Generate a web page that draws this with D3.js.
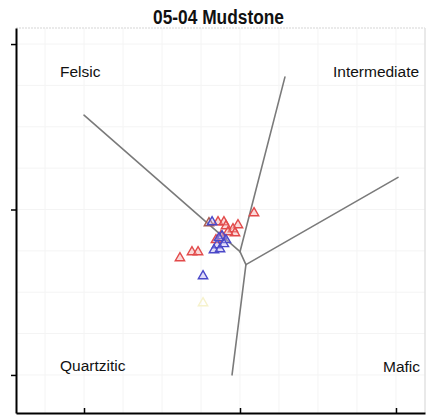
<!DOCTYPE html>
<html>
<head>
<meta charset="utf-8">
<script src="https://cdn.jsdelivr.net/npm/d3@7"></script>
<style>
  html, body { margin: 0; padding: 0; background: #fff; }
  svg { display: block; }
</style>
</head>
<body>
<svg id="chart" width="438" height="415"></svg>
<script>
// Discriminant-function provenance diagram (DF1 vs DF2)
const title = "05-04 Mudstone";
const xTicks = [-10, 0, 10];
const yTicks = [-10, 0, 10];

// Field boundary segments, [x1, y1, x2, y2] in DF units
const boundaries = [
  [-10.0, 5.70, 0.0, -2.55],
  [2.88, 8.00, 0.0, -2.55],
  [0.0, -2.55, 0.38, -3.33],
  [0.38, -3.33, 10.13, 1.94],
  [0.38, -3.33, -0.51, -10.0]
];

// Field names
const fieldNames = ["Felsic", "Intermediate", "Quartzitic", "Mafic"];
const fieldX = [-11.54, 5.96, -11.54, 9.17];
const fieldY = [8.0, 8.0, -9.76, -9.82];

// Sample groups
const redDF1 = [0.90, -1.41, -1.03, -0.13, -0.45, -0.32, -0.90, -3.08, -2.69, -3.85, -1.54, -1.22, -0.77];
const redDF2 = [-0.21, -0.76, -0.76, -0.94, -1.18, -1.42, -1.00, -2.57, -2.57, -2.93, -1.84, -1.60, -1.36];
const blueDF1 = [-1.79, -1.15, -0.90, -1.47, -1.67, -1.28, -1.03, -2.37, -1.35];
const blueDF2 = [-0.76, -1.60, -1.84, -2.15, -2.45, -2.39, -2.08, -4.02, -1.72];
const brownDF1 = [-1.99];
const brownDF2 = [-0.82];
const yellowDF1 = [-2.37];
const yellowDF2 = [-5.65];

const svg = d3.select("#chart");
const x = d3.scaleLinear().domain([-14.36, 11.86]).range([16, 425]);
const y = d3.scaleLinear().domain([-12.30, 10.97]).range([413, 28]);

// faint grid
const gridX = d3.range(-12.5, 11.86, 2.5);
const gridY = d3.range(-12.5, 10.97, 2.5).filter(v => v > -12.3);
svg.append("g").selectAll("line").data(gridX).join("line")
  .attr("x1", d => x(d)).attr("x2", d => x(d))
  .attr("y1", y.range()[1]).attr("y2", y.range()[0])
  .attr("stroke", "#f4f4f4").attr("stroke-width", 1);
svg.append("g").selectAll("line").data(gridY).join("line")
  .attr("y1", d => y(d)).attr("y2", d => y(d))
  .attr("x1", x.range()[0]).attr("x2", x.range()[1])
  .attr("stroke", "#f4f4f4").attr("stroke-width", 1);

// top and right frame (light)
svg.append("line").attr("x1", x.range()[0]).attr("x2", x.range()[1])
  .attr("y1", y.range()[1]).attr("y2", y.range()[1])
  .attr("stroke", "#e4e4e4").attr("stroke-width", 1.5).attr("stroke-dasharray", "2,1");
svg.append("line").attr("x1", x.range()[1]).attr("x2", x.range()[1])
  .attr("y1", y.range()[1]).attr("y2", y.range()[0])
  .attr("stroke", "#e2e2e2").attr("stroke-width", 1.5);

// boundaries
svg.append("g").selectAll("line").data(boundaries).join("line")
  .attr("x1", d => x(d[0])).attr("y1", d => y(d[1]))
  .attr("x2", d => x(d[2])).attr("y2", d => y(d[3]))
  .attr("stroke", "#7a7a7a").attr("stroke-width", 1.6)
  .attr("stroke-linecap", "round");

// field labels
svg.append("g").selectAll("text").data(fieldNames).join("text")
  .attr("x", (d, i) => x(fieldX[i])).attr("y", (d, i) => y(fieldY[i]))
  .attr("font-family", "Arial, 'Liberation Sans', sans-serif")
  .attr("font-size", 15.5).attr("fill", "#111")
  .text(d => d);

// sample markers
const tri = d3.symbol().type(d3.symbolTriangle).size(38);
function drawGroup(xs, ys, stroke, fill) {
  svg.append("g").selectAll("path").data(xs.map((v, i) => [v, ys[i]])).join("path")
    .attr("d", tri)
    .attr("transform", d => `translate(${x(d[0])},${y(d[1])})`)
    .attr("fill", fill).attr("stroke", stroke).attr("stroke-width", 1.4);
}
drawGroup(yellowDF1, yellowDF2, "#f6f2cc", "none");
drawGroup(redDF1, redDF2, "#e24a4a", "rgba(245,170,170,0.45)");
drawGroup(brownDF1, brownDF2, "#a85a50", "rgba(220,190,180,0.4)");
drawGroup(blueDF1, blueDF2, "#4a48c8", "rgba(180,170,240,0.4)");

// axes
const yAxis = d3.axisLeft(y).tickValues(yTicks).tickSize(5).tickSizeOuter(0).tickFormat("");
const xAxis = d3.axisBottom(x).tickValues(xTicks).tickSizeInner(-5).tickSizeOuter(0).tickFormat("");
const gy = svg.append("g").attr("transform", `translate(${x.range()[0]},0)`).call(yAxis);
const gx = svg.append("g").attr("transform", `translate(0,${y.range()[0]})`).call(xAxis);
[gx, gy].forEach(g => {
  g.select(".domain").attr("stroke", "#000").attr("stroke-width", 2);
  g.selectAll(".tick line").attr("stroke", "#000").attr("stroke-width", 1.5);
});

// title (condensed bold)
svg.append("text")
  .attr("x", 153).attr("y", 24)
  .attr("font-family", "Arial, 'Liberation Sans', sans-serif")
  .attr("font-weight", "bold").attr("font-size", 20)
  .attr("textLength", 131).attr("lengthAdjust", "spacingAndGlyphs")
  .attr("fill", "#111")
  .text(title);
</script>
</body>
</html>
